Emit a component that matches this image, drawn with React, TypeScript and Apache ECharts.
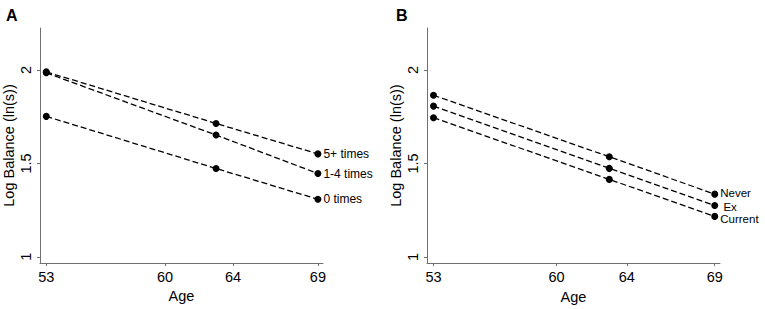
import React, { useEffect, useRef } from "react";
import * as echarts from "echarts";

const ages = [53, 63, 69];
const xTicks = [53, 60, 64, 69];
const yTicks = [1, 1.5, 2];

const seriesA = ["5+ times", "1-4 times", "0 times"];
const valA5 = [1.99, 1.714, 1.551];
const valA14 = [1.985, 1.652, 1.446];
const valA0 = [1.752, 1.473, 1.308];

const seriesB = ["Never", " Ex", "Current"];
const valBNever = [1.865, 1.536, 1.336];
const valBEx = [1.807, 1.474, 1.275];
const valBCur = [1.745, 1.415, 1.217];

const FONT = "Liberation Sans, Arial, sans-serif";

export default function App() {
  const ref = useRef<HTMLDivElement>(null);
  useEffect(() => {
    if (!ref.current) return;
    const chart = echarts.init(ref.current, undefined, { renderer: "svg" });
    const axisColor = "#707070";
    const mkX = (gridIndex: number) => ({
      type: "value",
      gridIndex,
      min: 52.63,
      max: 69.3,
      name: "Age",
      nameLocation: "middle",
      nameGap: 22,
      nameTextStyle: { fontFamily: FONT, fontSize: 14.5, color: "#000" },
      axisLine: { show: true, lineStyle: { color: axisColor, width: 1 } },
      axisTick: { show: true, length: 3, customValues: xTicks, lineStyle: { color: axisColor } },
      axisLabel: { customValues: xTicks, fontFamily: FONT, fontSize: 14.5, color: "#000", margin: 6 },
      splitLine: { show: false },
    });
    const mkY = (gridIndex: number) => ({
      type: "value",
      gridIndex,
      min: 0.967,
      max: 2.225,
      name: "Log Balance (ln(s))",
      nameLocation: "middle",
      nameGap: 24,
      nameRotate: 90,
      nameTextStyle: { fontFamily: FONT, fontSize: 14.5, color: "#000" },
      axisLine: { show: true, lineStyle: { color: axisColor, width: 1 } },
      axisTick: { show: true, length: 3, customValues: yTicks, lineStyle: { color: axisColor } },
      axisLabel: {
        customValues: yTicks,
        rotate: 90,
        fontFamily: FONT,
        fontSize: 14.5,
        color: "#000",
        margin: 7,
      },
      splitLine: { show: false },
    });
    const mkS = (name: string, vals: number[], idx: number, dy: number, fs: number) => ({
      type: "line",
      name,
      xAxisIndex: idx,
      yAxisIndex: idx,
      data: ages.map((a, i) => [a, vals[i]]),
      symbol: "circle",
      symbolSize: 7,
      itemStyle: { color: "#000" },
      lineStyle: { color: "#000", width: 1.3, type: [6, 3] },
      label: {
        show: true,
        position: "right",
        distance: 2,
        offset: [0, dy],
        fontFamily: FONT,
        fontSize: fs,
        lineHeight: 10,
        color: "#000",
        formatter: (p: any) => (p.dataIndex === ages.length - 1 ? name : ""),
      },
      emphasis: { disabled: true },
    });
    chart.setOption({
      animation: false,
      backgroundColor: "#fff",
      grid: [
        { left: 40, top: 28, width: 283, height: 235 },
        { left: 427, top: 28, width: 293, height: 242 },
      ],
      xAxis: [mkX(0), mkX(1)],
      yAxis: [mkY(0), mkY(1)],
      graphic: [
        { type: "text", left: 6, top: 7, style: { text: "A", font: "bold 16px Liberation Sans, Arial", fill: "#000" } },
        { type: "text", left: 396, top: 7, style: { text: "B", font: "bold 16px Liberation Sans, Arial", fill: "#000" } },
      ],
      series: [
        mkS(seriesA[0], valA5, 0, 0, 12),
        mkS(seriesA[1], valA14, 0, 0, 12),
        mkS(seriesA[2], valA0, 0, 0, 12),
        mkS(seriesB[0], valBNever, 1, -1, 11.5),
        mkS(seriesB[1], valBEx, 1, 1, 11.5),
        mkS(seriesB[2], valBCur, 1, 3, 11.5),
      ],
    });
    return () => chart.dispose();
  }, []);
  return (
    <div
      ref={ref}
      style={{ position: "fixed", left: 0, top: 0, width: 765, height: 309, background: "#fff" }}
    />
  );
}
